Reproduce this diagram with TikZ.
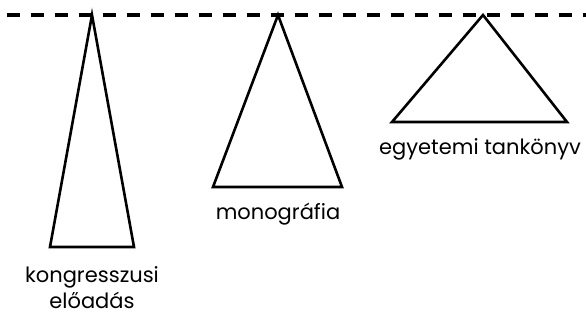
\documentclass[tikz,border=0pt]{standalone}
\usepackage{fontspec}
\setmainfont{Poppins}
\begin{document}
\begin{tikzpicture}[x=1pt,y=-1pt,
  tri/.style={line width=2.6pt,line join=miter},
  lbl/.style={font=\fontsize{21}{26}\selectfont,inner sep=0pt,align=center}]
\useasboundingbox (0,0) rectangle (586,320);
\draw[line width=3.4pt,dash pattern=on 13pt off 11pt] (7,15) -- (586,15);
\coordinate (a1) at (92,15);
\coordinate (a2) at (278,15);
\coordinate (a3) at (483,15);
\draw[tri] (a1) -- (134,247) -- (50,247) -- cycle;
\draw[tri] (a2) -- (342,187) -- (213,187) -- cycle;
\draw[tri] (a3) -- (567,122) -- (392,122) -- cycle;
\node[lbl] (t1) at (92,288) {kongresszusi\\előadás};
\node[lbl] (t2) at (278,214) {monográfia};
\node[lbl] (t3) at (480,149) {egyetemi tankönyv};
\end{tikzpicture}
\end{document}
